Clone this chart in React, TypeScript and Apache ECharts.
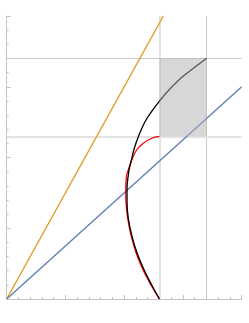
import React, { useEffect, useRef } from "react";
import * as echarts from "echarts";

const orangeLine: [number, number][] = [[0, 0], [1.333, 2]];
const blueLine: [number, number][] = [[0, 0], [2, 1.5]];
const blackCurve: [number, number][] = [
  [1.3, 0], [1.234, 0.099], [1.163, 0.217], [1.106, 0.334], [1.064, 0.452],
  [1.035, 0.57], [1.024, 0.688], [1.024, 0.782], [1.035, 0.876], [1.045, 0.926],
  [1.058, 0.97], [1.086, 1.065], [1.126, 1.159], [1.177, 1.253], [1.234, 1.326],
  [1.305, 1.404], [1.375, 1.472], [1.489, 1.565], [1.603, 1.64], [1.7, 1.7],
];
const redCurve: [number, number][] = [
  [1.3, 0], [1.228, 0.099], [1.154, 0.217], [1.098, 0.334], [1.058, 0.452],
  [1.03, 0.57], [1.015, 0.688], [1.013, 0.782], [1.021, 0.876], [1.035, 0.912],
  [1.064, 0.982], [1.106, 1.053], [1.163, 1.1], [1.234, 1.136], [1.3, 1.15],
];
const gridX = [1.3, 1.7];
const gridY = [1.15, 1.7];
const boxX = [1.3, 1.7];
const boxY = [1.15, 1.7];

export default function App() {
  const ref = useRef<HTMLDivElement>(null);
  useEffect(() => {
    if (!ref.current) return;
    const chart = echarts.init(ref.current, null, { renderer: "svg" });
    const axisCommon = {
      type: "value" as const,
      min: 0,
      max: 2,
      interval: 0.5,
      axisLabel: { show: false },
      splitLine: { show: false },
      axisLine: { show: true, onZero: false, lineStyle: { color: "#c4c4c4", width: 1 } },
      axisTick: { show: true, inside: true, length: 4, lineStyle: { color: "#c4c4c4" } },
      minorTick: { show: true, splitNumber: 5, length: 2, lineStyle: { color: "#c4c4c4" } },
    };
    const lineStyleFor = (i: number) =>
      i === 0 ? { color: "#e2e2e2", width: 2, type: "solid" as const } : { color: "#c8c8c8", width: 1, type: "solid" as const };
    chart.setOption({
      animation: false,
      grid: { left: 6.7, right: 7.3, top: 16, bottom: 24, containLabel: false },
      xAxis: axisCommon,
      yAxis: axisCommon,
      series: [
        {
          type: "line",
          data: [],
          z: 1,
          silent: true,
          markLine: {
            silent: true,
            z: 1,
            symbol: "none",
            label: { show: false },
            data: [
              ...gridX.map((v, i) => ({ xAxis: v, lineStyle: lineStyleFor(i) })),
              ...gridY.map((v, i) => ({ yAxis: v, lineStyle: lineStyleFor(i) })),
            ],
          },
        },
        {
          type: "line",
          data: orangeLine,
          symbol: "none",
          z: 2,
          lineStyle: { color: "#E19C24", width: 1.4 },
        },
        {
          type: "line",
          data: blueLine,
          symbol: "none",
          z: 2,
          lineStyle: { color: "#5E81B5", width: 1.4 },
        },
        {
          type: "line",
          data: redCurve,
          symbol: "none",
          smooth: 0.4,
          z: 3,
          lineStyle: { color: "#ff0000", width: 1.3 },
        },
        {
          type: "line",
          data: blackCurve,
          symbol: "none",
          smooth: 0.4,
          z: 4,
          lineStyle: { color: "#000000", width: 1.3 },
        },
        {
          type: "line",
          data: [],
          z: 10,
          silent: true,
          markArea: {
            silent: true,
            z: 10,
            itemStyle: { color: "rgba(175,175,175,0.5)" },
            data: [[{ coord: [boxX[0], boxY[0]] }, { coord: [boxX[1], boxY[1]] }]],
          },
        },
      ],
    });
    return () => chart.dispose();
  }, []);
  return (
    <div
      ref={ref}
      style={{ position: "fixed", left: 0, top: 0, width: 249, height: 323, background: "#fff" }}
    />
  );
}
